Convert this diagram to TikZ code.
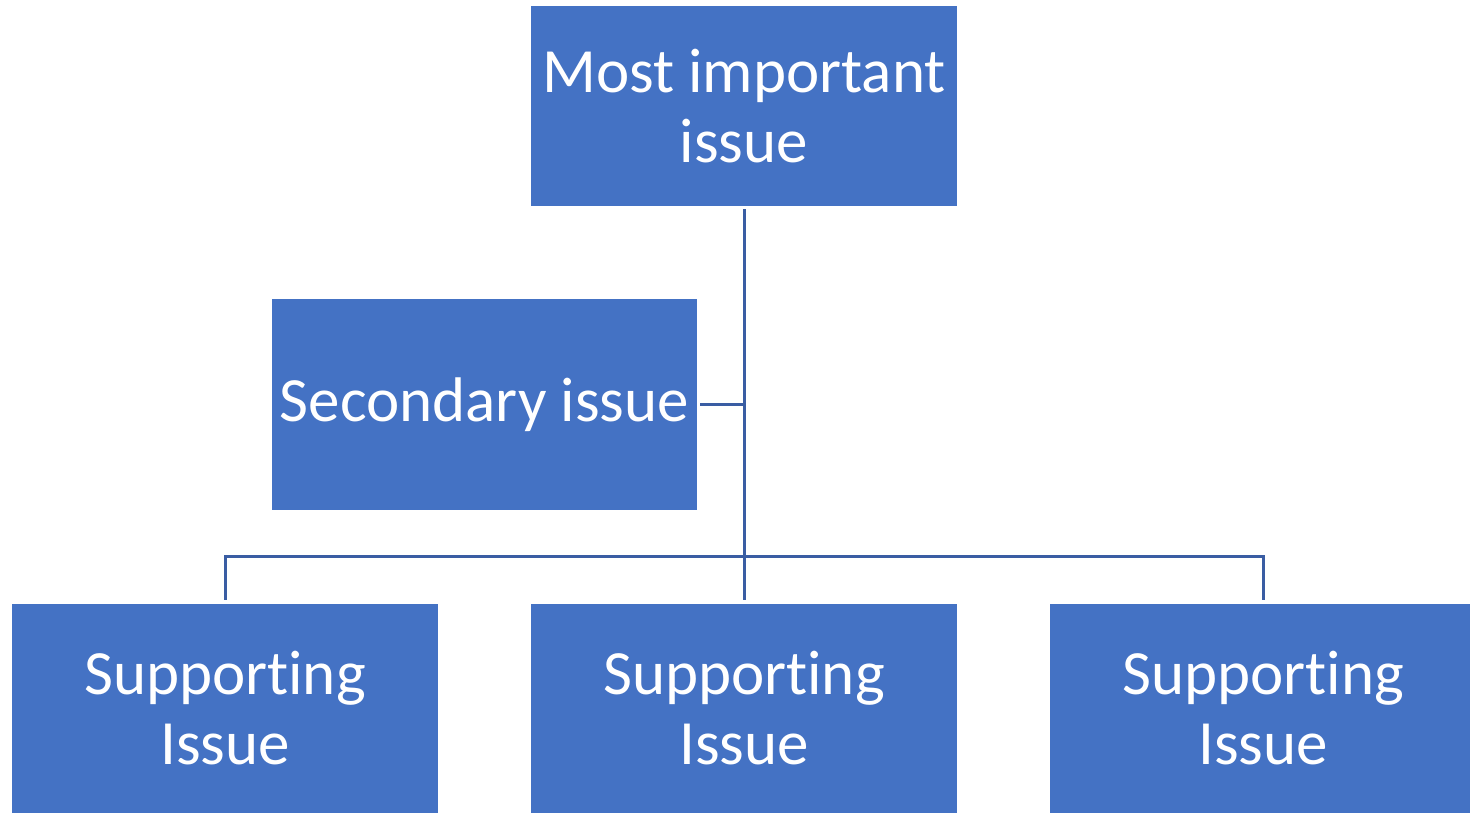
\documentclass[tikz,border=0pt]{standalone}
\usepackage{fontspec}
\setmainfont[Ligatures={NoCommon}]{Carlito}
\definecolor{boxblue}{HTML}{4472C4}
\definecolor{lineblue}{HTML}{3A5DA3}
\begin{document}
\begin{tikzpicture}[x=1pt,y=-1pt,
  issuebox/.style={fill=boxblue,draw=none,text=white,inner sep=0pt,align=center,
    font=\fontsize{63}{70}\selectfont},
  conn/.style={draw=lineblue,line width=3pt}]
\useasboundingbox (0,0) rectangle (1470,813);
\begin{scope}
\clip (0,0) rectangle (1470,813);
\node[issuebox,minimum width=426pt,minimum height=200pt] (top) at (744,106) {Most important\\issue};
\node[issuebox,minimum width=425pt,minimum height=211pt] (sec) at (484.5,404.5) {\raisebox{-3pt}{Secondary issue}};
\node[issuebox,minimum width=426pt,minimum height=209pt] (left) at (225,708.5) {Supporting\\Issue};
\node[issuebox,minimum width=426pt,minimum height=209pt] (mid) at (744,708.5) {Supporting\\Issue};
\node[issuebox,minimum width=426pt,minimum height=209pt] (right) at (1263,708.5) {Supporting\\Issue};
\end{scope}
\coordinate (bus) at (744,556);
\draw[conn] ([yshift=-3pt]top.south) -- ([yshift=4pt]mid.north);
\draw[conn] ([xshift=3pt]sec.east) -- (sec.east -| top.south);
\draw[conn] ([yshift=4pt]left.north) |- (bus) -| ([yshift=4pt]right.north);
\end{tikzpicture}
\end{document}
